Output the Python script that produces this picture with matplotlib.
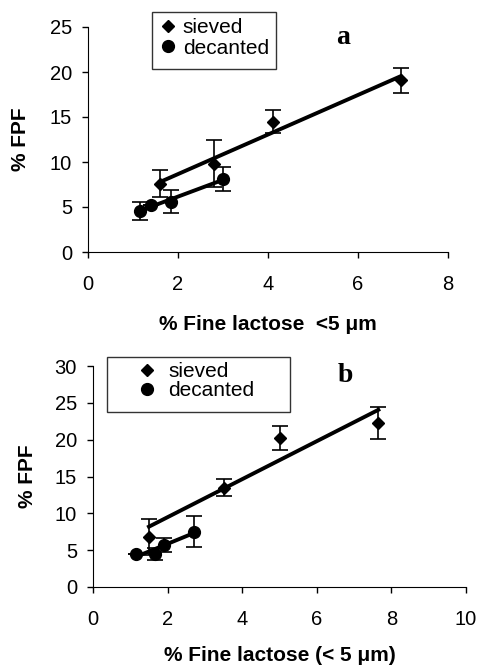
import numpy as np
import matplotlib
matplotlib.use("Agg")
import matplotlib.pyplot as plt
from matplotlib.patches import Rectangle

plt.rcParams['font.family'] = ['Liberation Sans', 'DejaVu Sans']

# panel a
a_siev_x = [1.6, 2.8, 4.1, 6.95]
a_siev_y = [7.6, 9.8, 14.5, 19.1]
a_siev_e = [1.5, 2.6, 1.3, 1.4]
a_dec_x = [1.15, 1.4, 1.85, 3.0]
a_dec_y = [4.6, 5.2, 5.6, 8.1]
a_dec_e = [1.0, 0.0, 1.3, 1.3]

# panel b
b_siev_x = [1.5, 3.5, 5.0, 7.65]
b_siev_y = [6.8, 13.5, 20.2, 22.3]
b_siev_e = [2.4, 1.2, 1.6, 2.2]
b_dec_x = [1.15, 1.65, 1.9, 2.7]
b_dec_y = [4.5, 4.5, 5.7, 7.5]
b_dec_e = [0.0, 0.8, 1.0, 2.1]

W, H = 481, 671


def panel(ax, sx, sy, se, dx, dy, de, xmax, ymax, xlabel, letter, letter_pos,
          ylpad, xlpad):
    handles = []
    for x, y, e, m in [(sx, sy, se, 'D'), (dx, dy, de, 'o')]:
        x = np.array(x); y = np.array(y)
        ax.errorbar(x, y, yerr=e, fmt='none', ecolor='black', elinewidth=1.2,
                    capsize=6, capthick=1.2, zorder=2)
        ms = 6.5 if m == 'D' else 8.5
        h, = ax.plot(x, y, m, color='black', ms=ms, zorder=3)
        handles.append(h)
        k, b = np.polyfit(x, y, 1)
        xx = np.array([x.min(), x.max()])
        ax.plot(xx, k * xx + b, '-', color='black', lw=2.8, zorder=2.5)
    ax.set_xlim(0, xmax)
    ax.set_ylim(0, ymax)
    ax.set_xticks(np.arange(0, xmax + 1, 2))
    ax.set_yticks(np.arange(0, ymax + 1, 5))
    for s in ['top', 'right']:
        ax.spines[s].set_visible(False)
    ax.tick_params(direction='out', length=4.5, width=1, labelsize=14.5)
    ax.tick_params(axis='y', pad=7)
    ax.tick_params(axis='x', pad=12)
    ax.set_xlabel(xlabel, fontsize=15, fontweight='bold', labelpad=xlpad)
    ax.set_ylabel('% FPF', fontsize=15, fontweight='bold', labelpad=ylpad)
    ax.text(letter_pos[0], letter_pos[1], letter, transform=ax.transAxes, fontsize=20,
            fontweight='bold', family='Liberation Serif', ha='center', va='center')
    return handles


def legend(ax, handles, frame, anchor, tpad, lspace):
    x0, y0, x1, y1 = frame
    ax.figure.patches.append(Rectangle((x0 / W, 1 - y1 / H), (x1 - x0) / W, (y1 - y0) / H,
                                       transform=ax.figure.transFigure, fill=False,
                                       edgecolor='#333333', lw=1.0))
    ax.legend(handles, ['sieved', 'decanted'], loc='center left',
              bbox_to_anchor=(anchor[0] / W, 1 - anchor[1] / H),
              bbox_transform=ax.figure.transFigure, frameon=False, fontsize=15,
              handlelength=0.8, handletextpad=tpad, borderpad=0, borderaxespad=0,
              labelspacing=lspace, markerscale=1.0)


fig = plt.figure(figsize=(W / 100, H / 100), dpi=100)
ax1 = fig.add_axes([88 / W, 1 - 252 / H, 360 / W, 225 / H])
ax2 = fig.add_axes([93 / W, 1 - 587 / H, 373 / W, 221 / H])

h1 = panel(ax1, a_siev_x, a_siev_y, a_siev_e, a_dec_x, a_dec_y, a_dec_e, 8, 25,
           '% Fine lactose  <5 \u03bcm', 'a', (0.708, 0.955), 14, 15)
h2 = panel(ax2, b_siev_x, b_siev_y, b_siev_e, b_dec_x, b_dec_y, b_dec_e, 10, 30,
           '% Fine lactose (< 5 \u03bcm)', 'b', (0.676, 0.955), 13, 12)

legend(ax1, h1, (152, 12, 276, 69), (160, 38), 0.3, 0.05)
legend(ax2, h2, (107, 357, 290, 412), (139, 381), 0.6, 0.0)

fig.savefig('out.png', dpi=100)
